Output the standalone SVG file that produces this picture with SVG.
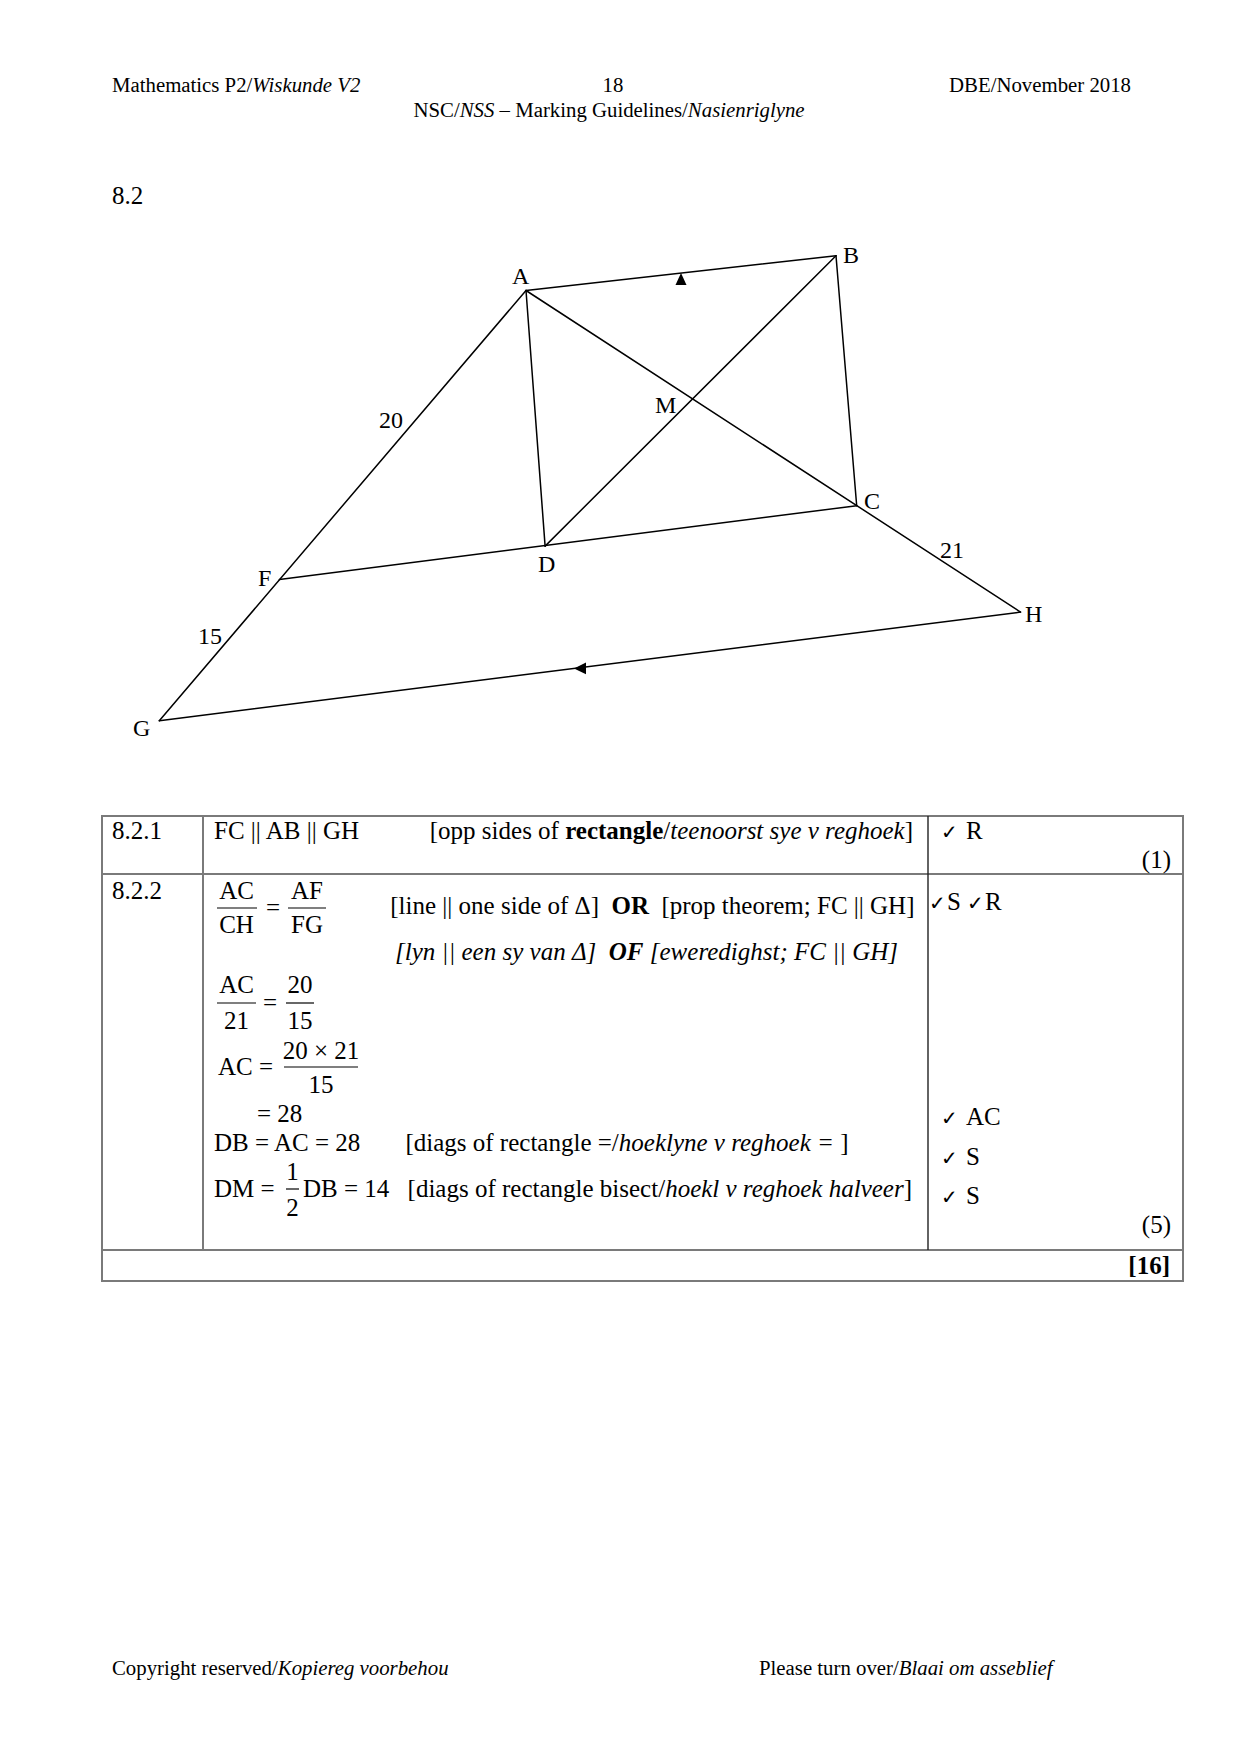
<svg xmlns="http://www.w3.org/2000/svg" width="1241" height="1755" viewBox="0 0 1241 1755">
<style>
.t{font-family:"Liberation Serif","Times New Roman",serif;font-size:25px;fill:#000;white-space:pre}
.h{font-size:20.8px}
.i{font-style:italic}
.b{font-weight:bold}
.lbl{font-family:"Liberation Serif","Times New Roman",serif;font-size:24px;fill:#000}
.ck{font-family:"DejaVu Sans",sans-serif;font-size:20px;fill:#000}
.ln{stroke:#000;stroke-width:1.5;fill:none;stroke-linecap:round}
.grid{stroke:#7a7a7a;stroke-width:2;fill:none}
.dv{stroke:#222;stroke-width:1.4}
.fb{stroke:#000;stroke-width:1.2}
</style>
<rect width="1241" height="1755" fill="#fff"/>

<g id="header">
<text class="t h" x="112" y="92">Mathematics P2/<tspan class="i">Wiskunde V2</tspan></text>
<text class="t h" x="613" y="92" text-anchor="middle">18</text>
<text class="t h" x="1131" y="92" text-anchor="end">DBE/November 2018</text>
<text class="t h" x="609" y="117" text-anchor="middle">NSC/<tspan class="i">NSS</tspan> – Marking Guidelines/<tspan class="i">Nasienriglyne</tspan></text>
</g>

<text class="t" x="112" y="204">8.2</text>

<g id="connectors">
<line class="ln" x1="526" y1="290.5" x2="159.3" y2="720.7"/>
<line class="ln" x1="526" y1="290.5" x2="836" y2="255.7"/>
<line class="ln" x1="836" y1="255.7" x2="856.7" y2="505.7"/>
<line class="ln" x1="526" y1="290.5" x2="545.1" y2="546.1"/>
<line class="ln" x1="526" y1="290.5" x2="1020.5" y2="612.1"/>
<line class="ln" x1="836" y1="255.7" x2="545.1" y2="546.1"/>
<line class="ln" x1="279.4" y1="579.6" x2="856.7" y2="505.7"/>
<line class="ln" x1="159.3" y1="720.7" x2="1020.5" y2="612.1"/>
<polygon points="681,273 675.5,285 686.5,285" fill="#000"/>
<polygon points="574,668.4 586,662.6 586,674.2" fill="#000"/>
</g>

<g id="node-A"><text class="lbl" x="512" y="284">A</text></g>
<g id="node-B"><text class="lbl" x="843" y="263">B</text></g>
<g id="node-C"><text class="lbl" x="864" y="509">C</text></g>
<g id="node-D"><text class="lbl" x="538" y="572">D</text></g>
<g id="node-F"><text class="lbl" x="258" y="586">F</text></g>
<g id="node-G"><text class="lbl" x="133" y="736">G</text></g>
<g id="node-H"><text class="lbl" x="1025" y="622">H</text></g>
<g id="node-M"><text class="lbl" x="655" y="413">M</text></g>
<g id="lengths">
<text class="lbl" x="379" y="428">20</text>
<text class="lbl" x="198" y="644">15</text>
<text class="lbl" x="940" y="558">21</text>
</g>

<g id="table">
<rect class="grid" x="102" y="816" width="1081" height="465"/>
<line class="grid" x1="102" y1="874" x2="1183" y2="874"/>
<line class="grid" x1="102" y1="1250" x2="1183" y2="1250"/>
<line class="grid" x1="203" y1="816" x2="203" y2="1250"/>
<line class="dv" x1="928" y1="816" x2="928" y2="1250"/>

<text class="t" x="112" y="839">8.2.1</text>
<text class="t" x="214" y="839">FC || AB || GH</text>
<text class="t" x="913" y="839" text-anchor="end">[opp sides of <tspan class="b">rectangle</tspan>/<tspan class="i">teenoorst sye v reghoek</tspan>]</text>
<text class="ck" x="941" y="839">✓</text>
<text class="t" x="966" y="839">R</text>
<text class="t" x="1171" y="868" text-anchor="end">(1)</text>

<text class="t" x="112" y="899">8.2.2</text>
<text class="t" x="236.5" y="899" text-anchor="middle">AC</text>
<line class="fb" x1="217" y1="908" x2="257" y2="908"/>
<text class="t" x="236.5" y="933" text-anchor="middle">CH</text>
<text class="t" x="273" y="916" text-anchor="middle">=</text>
<text class="t" x="307" y="899" text-anchor="middle">AF</text>
<line class="fb" x1="288" y1="908" x2="326" y2="908"/>
<text class="t" x="307" y="933" text-anchor="middle">FG</text>
<text class="t" x="914.5" y="914" text-anchor="end">[line || one side of Δ]  <tspan class="b">OR</tspan>  [prop theorem; FC || GH]</text>
<text class="t i" x="898" y="960" text-anchor="end">[lyn || een sy van Δ]  <tspan class="b">OF</tspan> [eweredighst; FC || GH]</text>
<text class="ck" x="929" y="910">✓</text>
<text class="t" x="947" y="910">S</text>
<text class="ck" x="967" y="910">✓</text>
<text class="t" x="985" y="910">R</text>

<text class="t" x="236.5" y="993" text-anchor="middle">AC</text>
<line class="fb" x1="217" y1="1003" x2="256" y2="1003"/>
<text class="t" x="236.5" y="1029" text-anchor="middle">21</text>
<text class="t" x="270" y="1011" text-anchor="middle">=</text>
<text class="t" x="300" y="993" text-anchor="middle">20</text>
<line class="fb" x1="286" y1="1003" x2="314" y2="1003"/>
<text class="t" x="300" y="1029" text-anchor="middle">15</text>

<text class="t" x="218" y="1075">AC =</text>
<text class="t" x="321" y="1059" text-anchor="middle">20 × 21</text>
<line class="fb" x1="284" y1="1067" x2="358" y2="1067"/>
<text class="t" x="321" y="1093" text-anchor="middle">15</text>
<text class="t" x="257" y="1122">= 28</text>
<text class="t" x="214" y="1151">DB = AC = 28</text>
<text class="t" x="848.5" y="1151" text-anchor="end">[diags of rectangle =/<tspan class="i">hoeklyne v reghoek = </tspan>]</text>
<text class="t" x="214" y="1197">DM =</text>
<text class="t" x="292.5" y="1180" text-anchor="middle">1</text>
<line class="fb" x1="286" y1="1189" x2="299" y2="1189"/>
<text class="t" x="292.5" y="1216" text-anchor="middle">2</text>
<text class="t" x="303" y="1197">DB = 14</text>
<text class="t" x="912" y="1197" text-anchor="end">[diags of rectangle bisect/<tspan class="i">hoekl v reghoek halveer</tspan>]</text>

<text class="ck" x="941" y="1125">✓</text>
<text class="t" x="966" y="1125">AC</text>
<text class="ck" x="941" y="1165">✓</text>
<text class="t" x="966" y="1165">S</text>
<text class="ck" x="941" y="1204">✓</text>
<text class="t" x="966" y="1204">S</text>
<text class="t" x="1171" y="1233" text-anchor="end">(5)</text>
<text class="t b" x="1170" y="1274" text-anchor="end">[16]</text>
</g>

<g id="footer">
<text class="t h" x="112" y="1675">Copyright reserved/<tspan class="i">Kopiereg voorbehou</tspan></text>
<text class="t h" x="759" y="1675">Please turn over/<tspan class="i">Blaai om asseblief</tspan></text>
</g>
</svg>
